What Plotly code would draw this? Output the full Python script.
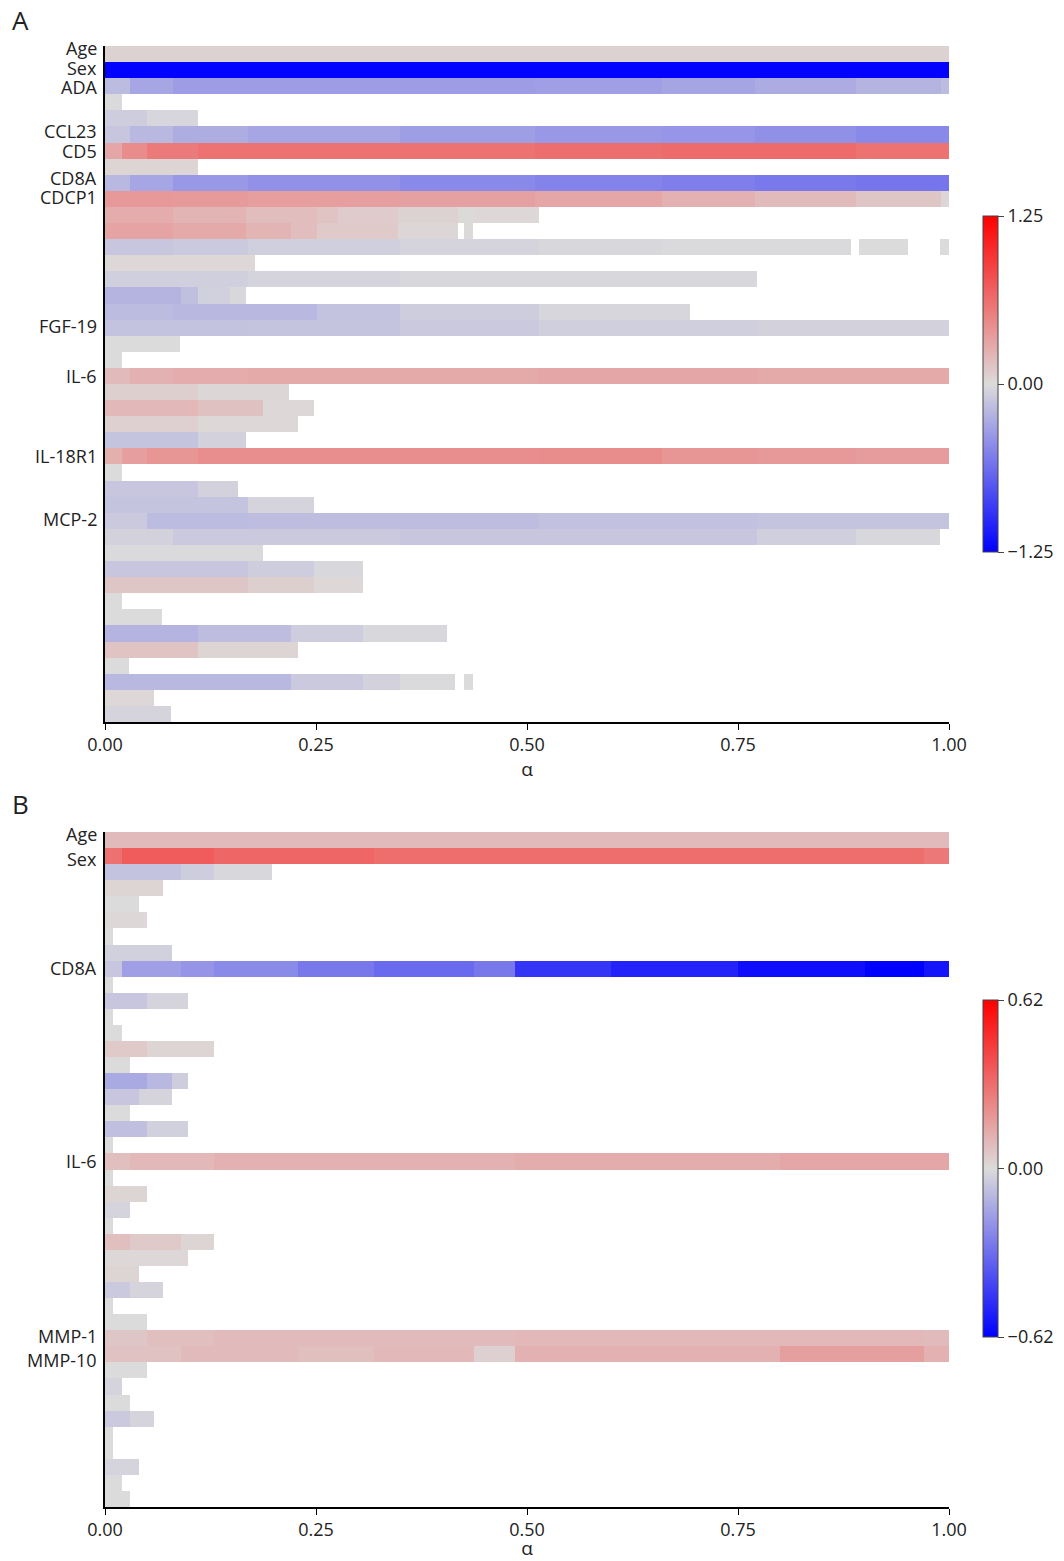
import plotly.graph_objects as go

# ---------------- DATA ----------------
# Each row: list of (alpha_end, coefficient) runs, starting at alpha = 0.
# None = coefficient not selected (blank cell).
a_row_labels = ["Age", "Sex", "ADA", "", "", "CCL23", "CD5", "", "CD8A", "CDCP1",
                "", "", "", "", "", "", "", "FGF-19", "", "",
                "IL-6", "", "", "", "", "IL-18R1", "", "", "", "MCP-2",
                "", "", "", "", "", "", "", "", "", "",
                "", ""]
a_segments = [
    [(1.0, 0.05)],
    [(1.0, -1.24)],
    [(0.03, -0.18), (0.08, -0.3), (0.51, -0.36), (0.66, -0.34), (0.77, -0.31), (0.89, -0.27), (0.99, -0.22), (1.0, -0.18)],
    [(0.02, -0.01)],
    [(0.05, -0.08), (0.11, -0.03)],
    [(0.03, -0.12), (0.08, -0.2), (0.17, -0.26), (0.35, -0.3), (0.51, -0.35), (0.66, -0.38), (0.77, -0.4), (0.89, -0.43), (1.0, -0.47)],
    [(0.02, 0.3), (0.05, 0.45), (0.11, 0.55), (0.51, 0.6), (0.66, 0.62), (0.89, 0.64), (1.0, 0.6)],
    [(0.11, 0.04)],
    [(0.03, -0.2), (0.08, -0.3), (0.17, -0.38), (0.35, -0.42), (0.51, -0.47), (0.66, -0.5), (0.77, -0.53), (0.89, -0.56), (1.0, -0.58)],
    [(0.08, 0.38), (0.17, 0.37), (0.35, 0.35), (0.51, 0.33), (0.66, 0.3), (0.77, 0.24), (0.89, 0.18), (0.99, 0.12), (1.0, 0.03)],
    [(0.08, 0.27), (0.167, 0.22), (0.251, 0.17), (0.276, 0.13), (0.347, 0.09), (0.418, 0.05), (0.437, 0.01), (0.514, 0.02)],
    [(0.08, 0.32), (0.167, 0.28), (0.22, 0.22), (0.251, 0.17), (0.347, 0.1), (0.418, 0.03), (0.425, None), (0.436, 0.01)],
    [(0.08, -0.12), (0.17, -0.1), (0.35, -0.07), (0.514, -0.04), (0.66, -0.02), (0.884, -0.01), (0.893, None), (0.951, 0.0), (0.989, None), (1.0, 0.0)],
    [(0.178, 0.02)],
    [(0.17, -0.07), (0.35, -0.04), (0.772, -0.02)],
    [(0.09, -0.22), (0.11, -0.16), (0.148, -0.06), (0.167, -0.02)],
    [(0.08, -0.18), (0.251, -0.2), (0.35, -0.14), (0.514, -0.08), (0.693, -0.03)],
    [(0.17, -0.14), (0.35, -0.13), (0.514, -0.1), (0.772, -0.07), (1.0, -0.05)],
    [(0.089, 0.0)],
    [(0.02, 0.0)],
    [(0.03, 0.18), (0.08, 0.24), (0.17, 0.27), (0.514, 0.28), (0.772, 0.3), (1.0, 0.28)],
    [(0.11, 0.07), (0.218, 0.03)],
    [(0.11, 0.2), (0.187, 0.15), (0.248, 0.02)],
    [(0.11, 0.06), (0.229, 0.02)],
    [(0.11, -0.13), (0.167, -0.05)],
    [(0.02, 0.25), (0.05, 0.35), (0.11, 0.4), (0.514, 0.44), (0.66, 0.45), (0.772, 0.4), (0.89, 0.38), (1.0, 0.36)],
    [(0.02, 0.0)],
    [(0.11, -0.12), (0.157, -0.05)],
    [(0.17, -0.13), (0.248, -0.04)],
    [(0.05, -0.1), (0.17, -0.18), (0.514, -0.17), (0.772, -0.15), (1.0, -0.13)],
    [(0.08, -0.05), (0.35, -0.1), (0.514, -0.12), (0.772, -0.12), (0.89, -0.07), (0.989, -0.02)],
    [(0.187, -0.01)],
    [(0.17, -0.12), (0.248, -0.08), (0.306, -0.02)],
    [(0.17, 0.12), (0.248, 0.07), (0.306, 0.02)],
    [(0.02, 0.0)],
    [(0.068, 0.0)],
    [(0.11, -0.22), (0.22, -0.17), (0.306, -0.08), (0.405, -0.02)],
    [(0.11, 0.13), (0.229, 0.04)],
    [(0.028, 0.0)],
    [(0.22, -0.2), (0.306, -0.1), (0.35, -0.05), (0.415, -0.01), (0.425, None), (0.436, 0.0)],
    [(0.058, 0.02)],
    [(0.078, -0.04)],
]

b_row_labels = ["Age", "Sex", "", "", "", "", "", "", "CD8A", "",
                "", "", "", "", "", "", "", "", "", "",
                "IL-6", "", "", "", "", "", "", "", "", "",
                "", "MMP-1", "MMP-10", "", "", "", "", "", "", "",
                "", ""]
b_segments = [
    [(1.0, 0.09)],
    [(0.02, 0.3), (0.129, 0.36), (0.319, 0.33), (0.486, 0.31), (0.97, 0.31), (1.0, 0.28)],
    [(0.09, -0.07), (0.129, -0.04), (0.198, -0.01)],
    [(0.069, 0.02)],
    [(0.04, 0.0)],
    [(0.05, 0.01)],
    [(0.01, 0.0)],
    [(0.079, -0.03)],
    [(0.02, -0.06), (0.09, -0.17), (0.129, -0.2), (0.229, -0.23), (0.319, -0.28), (0.437, -0.32), (0.486, -0.28),
     (0.6, -0.47), (0.75, -0.52), (0.9, -0.58), (0.97, -0.62), (1.0, -0.56)],
    [(0.01, 0.0)],
    [(0.05, -0.06), (0.098, -0.02)],
    [(0.01, 0.0)],
    [(0.02, 0.0)],
    [(0.05, 0.05), (0.129, 0.02)],
    [(0.03, 0.0)],
    [(0.05, -0.14), (0.079, -0.1), (0.098, -0.04)],
    [(0.04, -0.06), (0.079, -0.02)],
    [(0.03, 0.0)],
    [(0.05, -0.08), (0.098, -0.03)],
    [(0.01, 0.0)],
    [(0.03, 0.08), (0.129, 0.1), (0.486, 0.12), (0.8, 0.13), (1.0, 0.15)],
    [(0.01, 0.0)],
    [(0.05, 0.02)],
    [(0.03, -0.02)],
    [(0.01, 0.0)],
    [(0.03, 0.08), (0.09, 0.05), (0.129, 0.02)],
    [(0.098, 0.01)],
    [(0.04, 0.02)],
    [(0.03, -0.05), (0.069, -0.02)],
    [(0.01, 0.0)],
    [(0.05, 0.0)],
    [(0.05, 0.06), (0.129, 0.08), (0.486, 0.09), (0.97, 0.1), (1.0, 0.09)],
    [(0.09, 0.07), (0.229, 0.09), (0.319, 0.08), (0.437, 0.1), (0.486, 0.03), (0.8, 0.12), (0.97, 0.17), (1.0, 0.12)],
    [(0.05, 0.0)],
    [(0.02, -0.02)],
    [(0.03, 0.0)],
    [(0.03, -0.05), (0.058, -0.02)],
    [(0.01, 0.0)],
    [(0.01, 0.0)],
    [(0.04, -0.02)],
    [(0.02, 0.0)],
    [(0.03, 0.0)],
]

a_limit = 1.25
b_limit = 0.62
x_ticks = [0, 0.25, 0.5, 0.75, 1.0]

# label nudges (in rows) so that stacked labels do not collide, as in the reference
a_label_nudge = {"Age": -0.35, "Sex": -0.15, "ADA": 0.05, "CCL23": -0.2, "CD5": 0.05,
                 "CD8A": -0.3, "CDCP1": -0.1, "FGF-19": -0.1, "IL-6": 0.0,
                 "IL-18R1": 0.0, "MCP-2": -0.1}
b_label_nudge = {"Age": -0.35, "Sex": 0.15, "CD8A": -0.05, "IL-6": 0.0,
                 "MMP-1": -0.15, "MMP-10": 0.35}


# ---------------- BUILD ----------------
def build(rows):
    ends = sorted(set([0.0] + [e for row in rows for e, _ in row]))
    mids = [(ends[i] + ends[i + 1]) / 2 for i in range(len(ends) - 1)]
    z = []
    for row in rows:
        zr = []
        for m in mids:
            val = None
            start = 0.0
            for e, v in row:
                if start <= m < e:
                    val = v
                    break
                start = e
            zr.append(val)
        z.append(zr)
    return ends, z


W, H = 1064, 1561
ML, MR, MT, MB = 105, 1064 - 949, 46, 1561 - 1507
PW, PH = W - ML - MR, H - MT - MB


def px_x(px):  # page pixel -> paper fraction (plot area)
    return (px - ML) / PW


def px_y(px):
    return (H - MB - px) / PH


colorscale = [[0, "rgb(0,0,255)"], [0.5, "rgb(220,219,219)"], [1, "rgb(255,0,0)"]]
font_family = "Open Sans, Noto Sans, DejaVu Sans"
txt = "#222222"

fig = go.Figure()

panels = [
    (a_row_labels, a_segments, a_label_nudge, a_limit, "x", "y", 46, 722, 216, 552, "A", 20),
    (b_row_labels, b_segments, b_label_nudge, b_limit, "x2", "y2", 832, 1507, 1000, 1337, "B", 804),
]

for i, (labels, segs, nudge, lim, xa, ya, top, bot, cbt, cbb, letter, ly) in enumerate(panels):
    edges, z = build(segs)
    fig.add_trace(go.Heatmap(
        x=edges, y=list(range(len(segs))), z=z,
        zmin=-lim, zmax=lim, colorscale=colorscale,
        xaxis=xa, yaxis=ya, hoverongaps=False,
        colorbar=dict(
            x=px_x(983), xanchor="left", xpad=0, ypad=0,
            y=px_y((cbt + cbb) / 2), yanchor="middle",
            lenmode="pixels", len=cbb - cbt, thickness=15,
            outlinewidth=1, outlinecolor="#444444",
            tickvals=[-lim, 0, lim],
            ticktext=["\u2212%.2f" % lim, "0.00", "%.2f" % lim],
            ticks="outside", ticklen=6, tickcolor="#444444",
            tickfont=dict(size=18, color=txt, family=font_family),
        ),
    ))
    suffix = "" if i == 0 else "2"
    fig.update_layout(**{
        "xaxis" + suffix: dict(
            domain=[0, 1], range=[0, 1], anchor=ya, automargin=False,
            showline=True, linecolor="black", linewidth=1.5,
            ticks="outside", ticklen=6, tickcolor="black",
            tickvals=x_ticks, ticktext=["%.2f" % t for t in x_ticks],
            tickfont=dict(size=18, color=txt, family=font_family),
            showgrid=False, zeroline=False,
            title=dict(text="\u03b1", font=dict(size=19, color=txt, family=font_family), standoff=1),
        ),
        "yaxis" + suffix: dict(
            domain=[px_y(bot), px_y(top)], range=[len(segs) - 0.5, -0.5], anchor=xa,
            automargin=False,
            showline=True, linecolor="black", linewidth=1.5,
            ticks="", showticklabels=False,
            showgrid=False, zeroline=False,
        ),
    })
    yref = "y" if i == 0 else "y2"
    for k, lab in enumerate(labels):
        if lab:
            fig.add_annotation(text=lab, x=px_x(99), xref="paper", xanchor="right",
                               y=k + nudge.get(lab, 0.0), yref=yref, yanchor="middle",
                               showarrow=False,
                               font=dict(size=18, color=txt, family=font_family))
    fig.add_annotation(text=letter, x=px_x(10), y=px_y(ly), xref="paper", yref="paper",
                       xanchor="left", yanchor="middle", showarrow=False,
                       font=dict(size=26, color=txt, family=font_family))

fig.update_layout(
    width=W, height=H,
    margin=dict(l=ML, r=MR, t=MT, b=MB, autoexpand=False),
    paper_bgcolor="white", plot_bgcolor="white",
    font=dict(family=font_family, color=txt),
    showlegend=False,
)

fig.write_html(
    "out.html",
    config={"displayModeBar": False},
    post_script="document.body.style.margin='0';document.body.style.overflow='hidden';",
)
